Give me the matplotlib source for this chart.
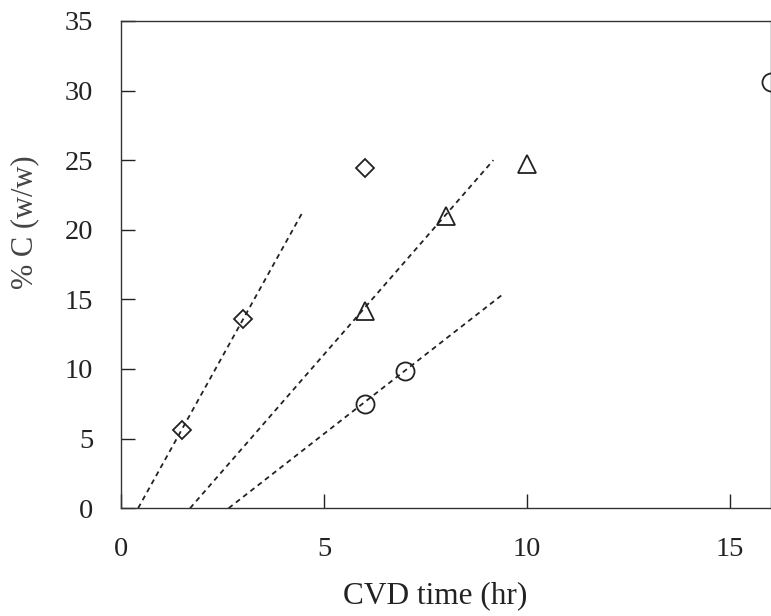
import matplotlib
matplotlib.use("Agg")
from matplotlib import pyplot as plt

# measured points
diamond_x = [1.5, 3.0, 6.0]
diamond_y = [5.65, 13.6, 24.45]
triangle_x = [6.0, 8.0, 10.0]
triangle_y = [14.2, 21.0, 24.7]
circle_x = [6.0, 7.0, 16.0]
circle_y = [7.5, 9.85, 30.65]

# dashed fit lines (start/end)
fit1_x = [0.42, 4.45]
fit1_y = [0.0, 21.15]
fit2_x = [1.70, 9.17]
fit2_y = [0.0, 25.0]
fit3_x = [2.65, 9.42]
fit3_y = [0.0, 15.4]

xticks = [0, 5, 10, 15]
yticks = [0, 5, 10, 15, 20, 25, 30, 35]

plt.rcParams['font.family'] = ['Liberation Serif', 'DejaVu Serif']
ink = '#222222'

fig = plt.figure(figsize=(7.71, 6.16), dpi=100)
ax = fig.add_axes([0.157, 0.175, 0.8425, 0.791])

for fx, fy in [(fit1_x, fit1_y), (fit2_x, fit2_y), (fit3_x, fit3_y)]:
    ax.plot(fx, fy, color=ink, lw=1.3, linestyle=(0, (2.8, 2.3)))

mk = dict(linestyle='none', markerfacecolor='none', markeredgecolor=ink,
          markeredgewidth=1.3, clip_on=False)
ax.plot(diamond_x, diamond_y, marker='D', markersize=9.5, **mk)
ax.plot(triangle_x, triangle_y, marker='^', markersize=12.5, **mk)
ax.plot(circle_x, circle_y, marker='o', markersize=13, **mk)

ax.set_xlim(0, 16)
ax.set_ylim(0, 35)
ax.set_xticks(xticks)
ax.set_yticks(yticks)
ax.tick_params(direction='in', length=10, width=1, colors=ink, labelsize=20.5)
ax.tick_params(axis='x', pad=21)
ax.tick_params(axis='y', pad=20)
for s in ax.spines.values():
    s.set_color('#333333')
    s.set_linewidth(1.0)

ax.set_xlabel('CVD time (hr)', fontsize=22.5, color=ink, va='center')
ax.xaxis.set_label_coords(0.483, -0.179)
ax.set_ylabel('% C (w/w)', fontsize=22, color='#444444', va='center')
ax.yaxis.set_label_coords(-0.149, 0.587)

fig.savefig('out.png', dpi=100)
